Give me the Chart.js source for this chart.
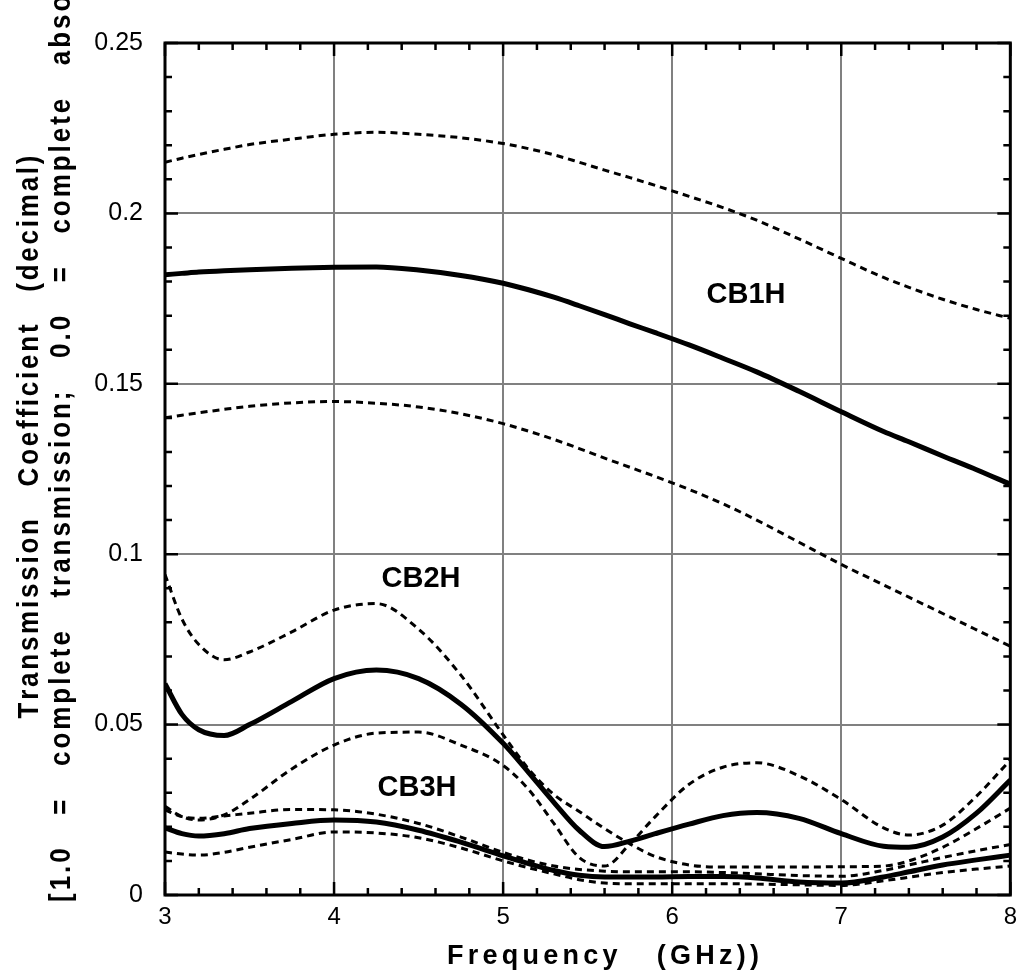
<!DOCTYPE html>
<html>
<head>
<meta charset="utf-8">
<script src="https://cdn.jsdelivr.net/npm/chart.js@4"></script>
<style>
  body { margin: 0; background: #fff; }
  canvas { display: block; }
</style>
</head>
<body>
<canvas id="grafica" width="1025" height="976"></canvas>
<script>
// frecuencias (GHz), eje x
const freq = [3, 3.1, 3.2, 3.35, 3.5, 3.75, 4, 4.25, 4.5, 4.75, 5, 5.15, 5.3, 5.45, 5.6, 5.75, 5.9, 6.1, 6.3, 6.5, 6.75, 7, 7.25, 7.4, 7.6, 7.8, 8];

// CB1H
const cb1hMid   = [0.182, 0.1824, 0.1828, 0.1832, 0.1835, 0.1839, 0.1842, 0.1843, 0.1834, 0.1818, 0.1795, 0.1776, 0.1754, 0.1729, 0.1703, 0.1676, 0.1650, 0.1614, 0.1575, 0.1535, 0.1478, 0.1418, 0.1360, 0.1330, 0.1288, 0.1248, 0.1205];
const cb1hUpper = [0.215, 0.2162, 0.2173, 0.2188, 0.2202, 0.2218, 0.2232, 0.2238, 0.2232, 0.2222, 0.2205, 0.2190, 0.2172, 0.2150, 0.2127, 0.2105, 0.2082, 0.2050, 0.2017, 0.198, 0.1925, 0.1868, 0.1812, 0.1783, 0.1748, 0.1718, 0.1692];
const cb1hLower = [0.140, 0.1408, 0.1415, 0.1425, 0.1434, 0.1444, 0.1448, 0.1443, 0.1432, 0.1412, 0.1383, 0.1361, 0.1337, 0.1310, 0.1282, 0.1255, 0.1228, 0.1190, 0.1148, 0.110, 0.1035, 0.097, 0.091, 0.0874, 0.0826, 0.0778, 0.073];

// CB2H
const cb2hMid = [0.062, 0.053, 0.0485, 0.0468, 0.0500, 0.0568, 0.0635, 0.0660, 0.0635, 0.0560, 0.0445, 0.0360, 0.0272, 0.0190, 0.0142, 0.0158, 0.0180, 0.0208, 0.0233, 0.0242, 0.0225, 0.0180, 0.0143, 0.0140, 0.0170, 0.0240, 0.0337];
const cb2hA   = [0.094, 0.081, 0.0735, 0.069, 0.0713, 0.0772, 0.0836, 0.0855, 0.078, 0.0645, 0.047, 0.037, 0.0295, 0.0245, 0.0195, 0.0150, 0.0113, 0.0088, 0.0082, 0.0082, 0.0082, 0.0083, 0.0085, 0.0100, 0.0140, 0.0195, 0.0255];
const cb2hB   = [0.026, 0.023, 0.022, 0.0235, 0.028, 0.037, 0.044, 0.0475, 0.0478, 0.044, 0.038, 0.031, 0.021, 0.011, 0.0085, 0.0150, 0.023, 0.0325, 0.0375, 0.0388, 0.035, 0.028, 0.0197, 0.0176, 0.0205, 0.029, 0.0396];

// CB3H
const cb3hMid   = [0.0197, 0.018, 0.0173, 0.018, 0.0195, 0.021, 0.022, 0.0214, 0.019, 0.0155, 0.0115, 0.0092, 0.0072, 0.0058, 0.0053, 0.0053, 0.0053, 0.0054, 0.0054, 0.0050, 0.0038, 0.0035, 0.0053, 0.0068, 0.0088, 0.0103, 0.0117];
const cb3hUpper = [0.025, 0.023, 0.0225, 0.0232, 0.024, 0.0251, 0.025, 0.0237, 0.021, 0.017, 0.0125, 0.0102, 0.0085, 0.0075, 0.0070, 0.0068, 0.0068, 0.0068, 0.0066, 0.0062, 0.0057, 0.0055, 0.0072, 0.0088, 0.0110, 0.0130, 0.0148];
const cb3hLower = [0.0126, 0.012, 0.0117, 0.0125, 0.014, 0.0163, 0.0185, 0.0182, 0.0168, 0.0138, 0.0100, 0.0080, 0.0062, 0.0045, 0.0035, 0.0033, 0.0033, 0.0033, 0.0033, 0.0032, 0.0030, 0.0028, 0.0042, 0.0052, 0.0066, 0.0076, 0.0085];

// marcas con etiqueta
const xMajorTicks = [3, 4, 5, 6, 7, 8];
const yMajorTicks = [0, 0.05, 0.1, 0.15, 0.2, 0.25];

const isMajor = (v, list) => list.some(m => Math.abs(m - v) < 1e-6);

const puntos = serie => freq.map((f, i) => ({ x: f, y: serie[i] }));

const solida = serie => ({
  data: puntos(serie),
  borderColor: "#000",
  borderWidth: 5,
  pointRadius: 0,
  cubicInterpolationMode: "monotone",
});
const punteada = serie => ({
  data: puntos(serie),
  borderColor: "#000",
  borderWidth: 3,
  borderDash: [7, 5],
  pointRadius: 0,
  cubicInterpolationMode: "monotone",
});

// texto con espaciado entre letras
const anchoTexto = (ctx, txt, esp) => {
  let w = 0;
  for (const ch of txt) w += ctx.measureText(ch).width + esp;
  return w - esp;
};
const espacioPara = (ctx, txt, largo) => {
  let w = 0;
  for (const ch of txt) w += ctx.measureText(ch).width;
  return (largo - w) / (txt.length - 1);
};
const textoEspaciado = (ctx, txt, x, y, esp) => {
  for (const ch of txt) {
    ctx.fillText(ch, x, y);
    x += ctx.measureText(ch).width + esp;
  }
};

const marcoYtextos = {
  id: "marcoYtextos",
  beforeDraw(chart) {
    const ctx = chart.ctx;
    ctx.save();
    ctx.fillStyle = "#fff";
    ctx.fillRect(0, 0, chart.width, chart.height);
    ctx.restore();
  },
  afterDraw(chart) {
    const ctx = chart.ctx;
    const { left, right, top, bottom } = chart.chartArea;
    const sx = chart.scales.x, sy = chart.scales.y;
    ctx.save();
    ctx.strokeStyle = "#000";
    ctx.lineCap = "butt";

    // marcas hacia dentro, en los cuatro lados
    ctx.lineWidth = 2.5;
    sx.ticks.forEach(t => {
      const px = sx.getPixelForValue(t.value);
      const len = isMajor(t.value, xMajorTicks) ? 13 : 7;
      ctx.beginPath();
      ctx.moveTo(px, bottom); ctx.lineTo(px, bottom - len);
      ctx.moveTo(px, top); ctx.lineTo(px, top + len);
      ctx.stroke();
    });
    sy.ticks.forEach(t => {
      const py = sy.getPixelForValue(t.value);
      const len = isMajor(t.value, yMajorTicks) ? 13 : 7;
      ctx.beginPath();
      ctx.moveTo(left, py); ctx.lineTo(left + len, py);
      ctx.moveTo(right, py); ctx.lineTo(right - len, py);
      ctx.stroke();
    });

    // marco
    ctx.lineWidth = 3;
    ctx.strokeRect(left, top, right - left, bottom - top);

    // etiquetas de curvas
    ctx.fillStyle = "#000";
    ctx.font = "bold 29px 'Liberation Sans', Arial, sans-serif";
    ctx.textAlign = "center";
    ctx.textBaseline = "middle";
    ctx.fillText("CB1H", 746, 295);
    ctx.fillText("CB2H", 421, 579);
    ctx.fillText("CB3H", 417, 788);

    // títulos de ejes
    ctx.textAlign = "left";
    ctx.textBaseline = "alphabetic";

    ctx.font = "bold 27px 'Liberation Sans', Arial, sans-serif";
    const tx = "Frequency   (GHz))";
    const ex = espacioPara(ctx, tx, 312);
    textoEspaciado(ctx, tx, 603 - anchoTexto(ctx, tx, ex) / 2, 964, ex);

    ctx.font = "bold 26px 'Liberation Sans', Arial, sans-serif";
    const t1 = "Transmission   Coefficient   (decimal)";
    const e1 = espacioPara(ctx, t1, 563);
    ctx.save();
    ctx.translate(38, 437);
    ctx.rotate(-Math.PI / 2);
    ctx.scale(1, 1.1);
    textoEspaciado(ctx, t1, -anchoTexto(ctx, t1, e1) / 2, 0, e1);
    ctx.restore();

    const t2 = "[1.0   =   complete   transmission;   0.0   =   complete   absorption]";
    const visible = "[1.0   =   complete   transmission;   0.0   =   complete   absc";
    const e2 = espacioPara(ctx, visible, 905);
    ctx.save();
    ctx.translate(70, 902);
    ctx.rotate(-Math.PI / 2);
    ctx.scale(1, 1.1);
    textoEspaciado(ctx, t2, 0, 0, e2);
    ctx.restore();

    ctx.restore();
  },
};

const grafica = document.getElementById("grafica");

const pintarGrafica = () => {
  new Chart(grafica, {
    type: "line",
    data: {
      datasets: [
        solida(cb1hMid), punteada(cb1hUpper), punteada(cb1hLower),
        solida(cb2hMid), punteada(cb2hA), punteada(cb2hB),
        solida(cb3hMid), punteada(cb3hUpper), punteada(cb3hLower),
      ],
    },
    options: {
      responsive: false,
      animation: false,
      devicePixelRatio: 1,
      layout: { padding: { top: 43, right: 7, bottom: 0, left: 0 } },
      plugins: { legend: { display: false }, tooltip: { enabled: false } },
      scales: {
        x: {
          type: "linear",
          min: 3,
          max: 8,
          afterFit: s => { s.height = 81; },
          border: { display: false },
          grid: {
            drawTicks: false,
            lineWidth: 2,
            color: c => (c.tick && isMajor(c.tick.value, [4, 5, 6, 7]) ? "#808080" : "rgba(0,0,0,0)"),
          },
          ticks: {
            stepSize: 0.2,
            autoSkip: false,
            maxRotation: 0,
            padding: 8,
            color: "#000",
            font: { family: "'Liberation Sans', Arial, sans-serif", size: 24 },
            callback: v => (isMajor(v, xMajorTicks) ? String(Math.round(v)) : ""),
          },
        },
        y: {
          min: 0,
          max: 0.25,
          afterFit: s => { s.width = 165; },
          border: { display: false },
          grid: {
            drawTicks: false,
            lineWidth: 2,
            color: c => (c.tick && isMajor(c.tick.value, [0.05, 0.1, 0.15, 0.2]) ? "#808080" : "rgba(0,0,0,0)"),
          },
          ticks: {
            stepSize: 0.01,
            autoSkip: false,
            padding: 22,
            color: "#000",
            font: { family: "'Liberation Sans', Arial, sans-serif", size: 25 },
            callback: v => (isMajor(v, yMajorTicks) ? String(parseFloat(v.toFixed(2))) : ""),
          },
        },
      },
    },
    plugins: [marcoYtextos],
  });
};

window.addEventListener("load", pintarGrafica);
</script>
</body>
</html>
